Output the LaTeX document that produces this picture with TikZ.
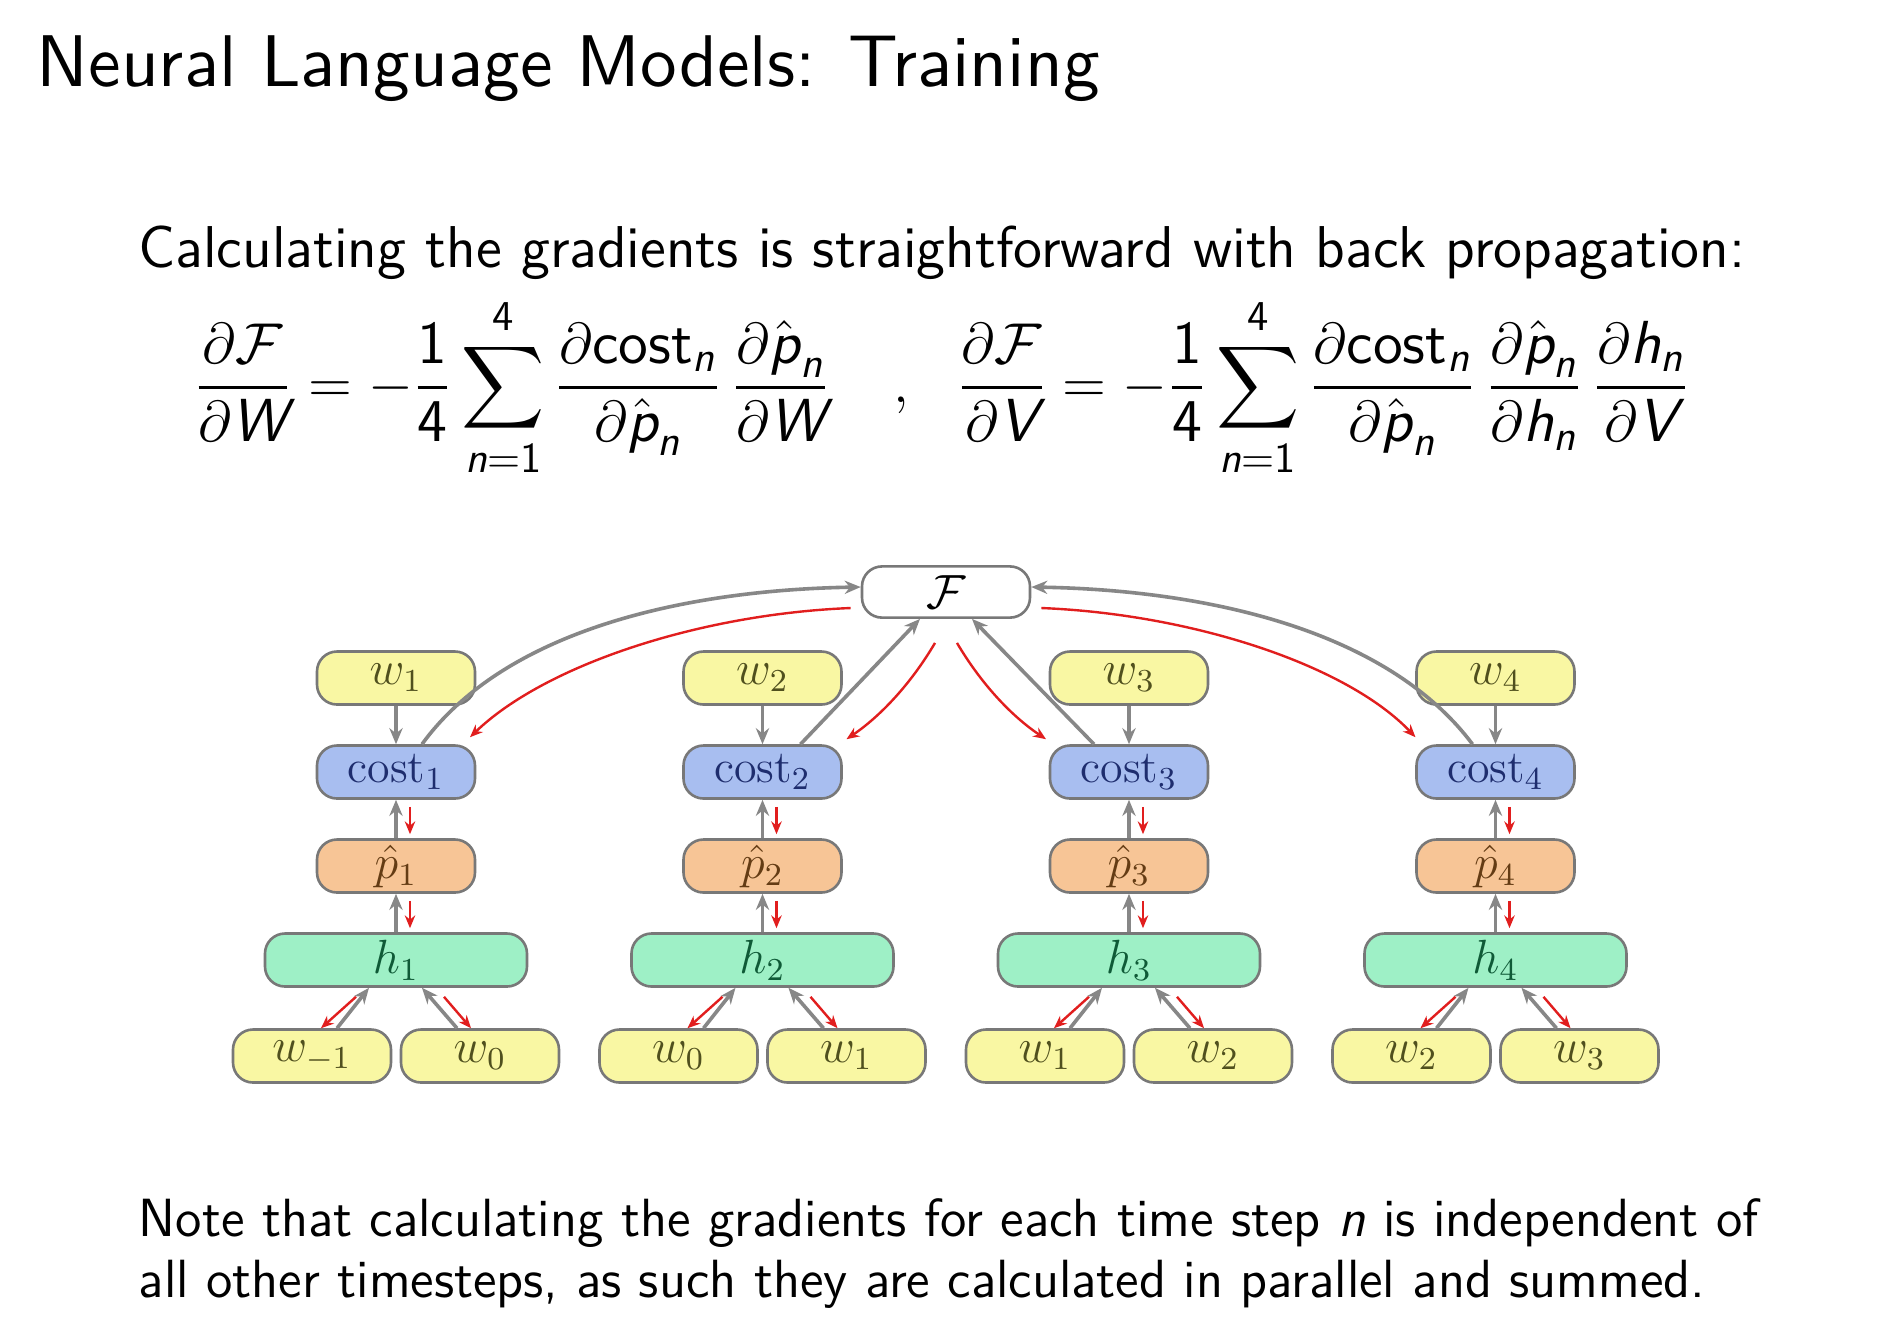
\documentclass[tikz,border=0pt]{standalone}
\usepackage{amsmath}
\usepackage{fontspec}
\newfontfamily\titlefont{lmsans10-regular}[Extension=.otf]
\usetikzlibrary{arrows.meta,calc}
\definecolor{wfill}{RGB}{249,247,163}
\definecolor{wtext}{RGB}{80,80,30}
\definecolor{cfill}{RGB}{168,190,240}
\definecolor{ctext}{RGB}{30,45,110}
\definecolor{pfill}{RGB}{247,197,150}
\definecolor{ptext}{RGB}{100,60,20}
\definecolor{hfill}{RGB}{158,240,198}
\definecolor{htext}{RGB}{15,90,55}
\definecolor{boxdraw}{RGB}{120,120,120}
\definecolor{fwdgray}{RGB}{135,135,135}
\definecolor{backred}{RGB}{225,30,30}
\newcommand{\si}[1]{\text{\sffamily\slshape #1}}
\newcommand{\su}[1]{\text{\sffamily #1}}
\tikzset{
  box/.style={draw=boxdraw, line width=0.65pt, rounded corners=5pt, minimum width=39.5pt, minimum height=13.25pt, inner sep=0pt, font=\fontsize{11.5}{13}\selectfont},
  wbox/.style={box, fill=wfill, text=wtext},
  cbox/.style={box, fill=cfill, text=ctext},
  pbox/.style={box, fill=pfill, text=ptext},
  hbox/.style={box, fill=hfill, text=htext, minimum width=65.5pt},
  Fbox/.style={box, fill=white, text=black, minimum width=42pt, minimum height=12.8pt},
  fwd/.style={draw=fwdgray, line width=0.9pt, -{Stealth[length=4pt,width=3.3pt]}},
  back/.style={draw=backred, line width=0.6pt, -{Stealth[length=3.2pt,width=2.6pt]}},
  txt/.style={inner sep=0pt, anchor=base west}
}
\begin{document}
\begin{tikzpicture}[x=0.25pt, y=-0.25pt]
\useasboundingbox[fill=white] (0,0) rectangle (1888,1322);
\node[txt, font=\titlefont\fontsize{18.3}{22}\selectfont] (title) at (36,86) {Neural Language Models: Training};
\node[txt, font=\sffamily\fontsize{14.75}{17}\selectfont] (calc) at (138,267) {Calculating the gradients is straightforward with back propagation:};
\node[txt, font=\sffamily\fontsize{15.2}{17}\selectfont] (eq) at (193,402) {$\displaystyle
 \frac{\partial\mathcal{F}}{\partial\si{W}} = -\frac{\su{1}}{\su{4}}\sum_{\si{n}\su{=1}}^{\su{4}}\frac{\partial\su{cost}_{\si{n}}}{\partial\hat{\si{p}}_{\si{n}}}\,\frac{\partial\hat{\si{p}}_{\si{n}}}{\partial\si{W}}
 \hspace{16pt},\hspace{9.5pt}
 \frac{\partial\mathcal{F}}{\partial\si{V}} = -\frac{\su{1}}{\su{4}}\sum_{\si{n}\su{=1}}^{\su{4}}\frac{\partial\su{cost}_{\si{n}}}{\partial\hat{\si{p}}_{\si{n}}}\,\frac{\partial\hat{\si{p}}_{\si{n}}}{\partial\si{h}_{\si{n}}}\,\frac{\partial\si{h}_{\si{n}}}{\partial\si{V}}$};
\node[txt, font=\sffamily\fontsize{13.45}{16}\selectfont] (note1) at (138,1236) {Note that calculating the gradients for each time step \textsl{n} is independent of};
\node[txt, font=\sffamily\fontsize{13.45}{16}\selectfont] (note2) at (138,1297) {all other timesteps, as such they are calculated in parallel and summed.};

\node[Fbox] (F) at (946,592) {$\mathcal{F}$};
\foreach \k/\x/\l/\r in {1/396/-1/0, 2/762.5/0/1, 3/1129/1/2, 4/1495.5/2/3} {
  \node[wbox] (w\k) at (\x,678) {$w_{\k}$};
  \node[cbox] (c\k) at (\x,772) {$\mathrm{cost}_{\k}$};
  \node[pbox] (p\k) at (\x,866) {$\hat{p}_{\k}$};
  \node[hbox] (h\k) at (\x,960) {$h_{\k}$};
  \node[wbox] (bl\k) at (\x-84,1056) {$w_{\l}$};
  \node[wbox] (br\k) at (\x+84,1056) {$w_{\r}$};
  \draw[fwd] (w\k) -- (c\k);
  \draw[fwd] (p\k) -- (c\k);
  \draw[back] ($(c\k.south)+(14,7)$) -- ($(p\k.north)+(14,-4)$);
  \draw[fwd] (h\k) -- (p\k);
  \draw[back] ($(p\k.south)+(14,7)$) -- ($(h\k.north)+(14,-4)$);
  \draw[fwd] ($(bl\k.north)+(25,0)$) -- ($(h\k.south)+(-27,0)$);
  \draw[back] ($(h\k.south)+(-40,9)$) -- ($(bl\k.north)+(9,0)$);
  \draw[fwd] ($(br\k.north)+(-23,0)$) -- ($(h\k.south)+(26,0)$);
  \draw[back] ($(h\k.south)+(48,9)$) -- ($(br\k.north)+(-9,0)$);
}
% cost -> F and back
\draw[fwd] ($(c1.north)+(26,0)$) .. controls (505,630) and (685,590) .. ($(F.west)+(0,-5)$);
\draw[back] ($(F.west)+(-10,16)$) .. controls (700,614) and (545,665) .. ($(c1.north)+(74,-7)$);
\draw[fwd] ($(c4.north)+(-23,0)$) .. controls (1387,630) and (1207,590) .. ($(F.east)+(0,-5)$);
\draw[back] ($(F.east)+(10,16)$) .. controls (1192,614) and (1347,665) .. ($(c4.north)+(-80,-7)$);
\draw[fwd] ($(c2.north)+(38,0)$) -- ($(F.south)+(-26,0)$);
\draw[back] ($(F.south)+(-11,24)$) .. controls (912,682) and (882,715) .. ($(c2.north)+(84,-5)$);
\draw[fwd] ($(c3.north)+(-35,0)$) -- ($(F.south)+(26,0)$);
\draw[back] ($(F.south)+(11,24)$) .. controls (980,682) and (1010,715) .. ($(c3.north)+(-83,-5)$);
\end{tikzpicture}
\end{document}
